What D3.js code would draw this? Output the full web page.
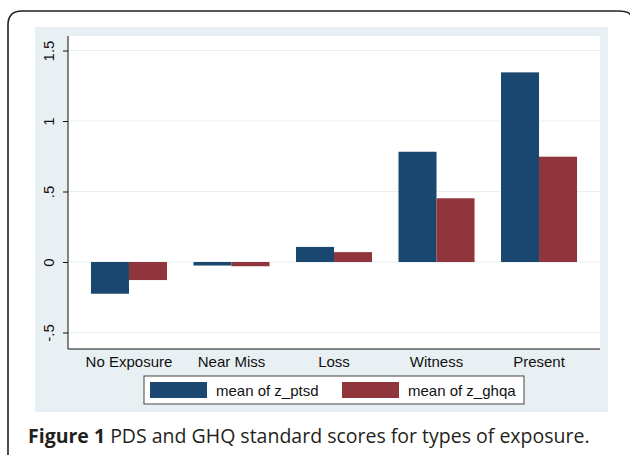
<!DOCTYPE html>
<html>
<head>
<meta charset="utf-8">
<script src="https://cdn.jsdelivr.net/npm/d3@7"></script>
<style>
  html, body { margin: 0; padding: 0; background: #fff; }
  svg { display: block; }
</style>
</head>
<body>
<script>
// data
var categories = ["No Exposure", "Near Miss", "Loss", "Witness", "Present"];
var seriesNames = ["mean of z_ptsd", "mean of z_ghqa"];
var ptsd = [-0.225, -0.025, 0.107, 0.782, 1.345];
var ghqa = [-0.128, -0.03, 0.07, 0.452, 0.747];
var yTicks = [-0.5, 0, 0.5, 1, 1.5];
var yTickLabels = ["-.5", "0", ".5", "1", "1.5"];
var colors = ["#1a476f", "#90353b"];

var W = 630, H = 455;
var svg = d3.select("body").append("svg").attr("width", W).attr("height", H);

// outer rounded frame
svg.append("path")
  .attr("d", "M8,456 L8,25 Q8,11 22,11 L618,11 Q630,11 631,16")
  .attr("fill", "none").attr("stroke", "#222").attr("stroke-width", 1.6);

// graph region background
svg.append("rect").attr("x", 35).attr("y", 27).attr("width", 573).attr("height", 385)
  .attr("fill", "#e9f0f3");

var plot = { left: 68, right: 600, top: 36, bottom: 349 };
svg.append("rect").attr("x", plot.left).attr("y", plot.top)
  .attr("width", plot.right - plot.left).attr("height", plot.bottom - plot.top)
  .attr("fill", "#fff");

var y = d3.scaleLinear().domain([-0.617, 1.603]).range([plot.bottom, plot.top]);
var x = d3.scaleBand().domain(categories).range([plot.left, plot.right])
  .paddingInner(0.2585).paddingOuter(0.224);
var xs = d3.scaleBand().domain([0, 1]).range([0, x.bandwidth()]);

// gridlines
svg.append("g").selectAll("line").data(yTicks).enter().append("line")
  .attr("x1", plot.left).attr("x2", plot.right)
  .attr("y1", function (d) { return y(d); }).attr("y2", function (d) { return y(d); })
  .attr("stroke", "#e6eff1").attr("stroke-width", 1.2);

// bars
var rows = categories.map(function (c, i) { return { cat: c, vals: [ptsd[i], ghqa[i]] }; });
var grp = svg.append("g").selectAll("g").data(rows).enter().append("g")
  .attr("transform", function (d) { return "translate(" + x(d.cat) + ",0)"; });
grp.selectAll("rect").data(function (d) { return d.vals; }).enter().append("rect")
  .attr("x", function (d, i) { return xs(i); })
  .attr("width", xs.bandwidth())
  .attr("y", function (d) { return y(Math.max(0, d)); })
  .attr("height", function (d) { return Math.abs(y(d) - y(0)); })
  .attr("fill", function (d, i) { return colors[i]; });

// y axis
var yAxis = d3.axisLeft(y).tickValues(yTicks).tickSize(5).tickPadding(0)
  .tickFormat(function (d, i) { return yTickLabels[i]; });
var ya = svg.append("g").attr("transform", "translate(" + plot.left + ",0)").call(yAxis);
ya.select(".domain").attr("d", "M0," + plot.top + "V" + plot.bottom).attr("stroke", "#111");
ya.selectAll(".tick line").attr("stroke", "#111");
ya.selectAll(".tick text")
  .attr("transform", "translate(-19,0) rotate(-90)")
  .attr("x", 0).attr("dy", "0.35em").attr("text-anchor", "middle")
  .attr("font-family", "Liberation Sans, Arial, sans-serif").attr("font-size", 15).attr("fill", "#111");

// x axis
var xAxis = d3.axisBottom(x).tickSize(0).tickPadding(7);
var xa = svg.append("g").attr("transform", "translate(0," + plot.bottom + ")").call(xAxis);
xa.select(".domain").attr("d", "M" + plot.left + ",0H" + plot.right).attr("stroke", "#111");
xa.selectAll(".tick text")
  .attr("font-family", "Liberation Sans, Arial, sans-serif").attr("font-size", 15).attr("fill", "#111");

// legend
var lg = svg.append("g");
lg.append("rect").attr("x", 144).attr("y", 376).attr("width", 380).attr("height", 28)
  .attr("fill", "#fff").attr("stroke", "#444").attr("stroke-width", 1);
var legX = [150, 342];
seriesNames.forEach(function (s, i) {
  lg.append("rect").attr("x", legX[i]).attr("y", 382).attr("width", 57).attr("height", 16)
    .attr("fill", colors[i]);
  lg.append("text").attr("x", legX[i] + 66).attr("y", 395.5)
    .attr("font-family", "Liberation Sans, Arial, sans-serif").attr("font-size", 15).attr("fill", "#111")
    .text(s);
});

// caption
var cap = svg.append("text").attr("x", 28).attr("y", 443)
  .attr("font-family", "Open Sans, sans-serif").attr("font-size", 19.5).attr("fill", "#231f20");
cap.append("tspan").attr("font-weight", 700).text("Figure 1");
cap.append("tspan").text(" PDS and GHQ standard scores for types of exposure.");
</script>
</body>
</html>
